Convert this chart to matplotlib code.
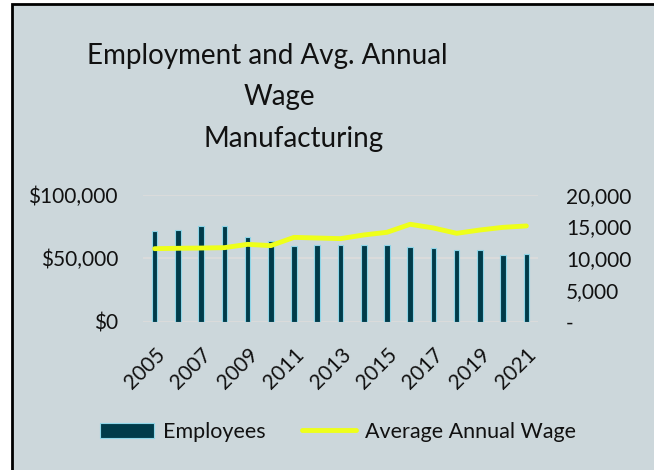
import matplotlib.pyplot as plt
import matplotlib.patches as patches
from matplotlib.lines import Line2D
from matplotlib.ticker import FuncFormatter

plt.rcParams['font.family'] = ['Lato', 'DejaVu Sans']

years = list(range(2005, 2022))
employees = [14300, 14500, 15000, 15000, 13400, 12700, 11900, 12100, 12100,
             12100, 12000, 11800, 11600, 11300, 11300, 10500, 10600]
avg_wage = [57500, 57800, 58000, 58300, 60900, 59900, 66400, 65900, 65400,
            68300, 70400, 76700, 73800, 69600, 72200, 74300, 75400]
wage_ticks = [0, 50000, 100000]
emp_ticks = [0, 5000, 10000, 15000, 20000]

bg = '#CCD7DB'
bar_color = '#003B4A'
bar_edge = '#8FD6E8'
line_color = '#EEFF1A'

fig = plt.figure(figsize=(6.54, 4.70), dpi=100)
fig.patch.set_facecolor('white')
fig.patches.append(patches.Rectangle((12 / 654, -0.02), 1.1, 1 - 4 / 470 + 0.02,
                                     transform=fig.transFigure, facecolor=bg,
                                     edgecolor='black', linewidth=2, zorder=-5))

# bars on right scale (employees), line on left scale (wage)
ax2 = fig.add_axes([143 / 654, 1 - 321.7 / 470, (538 - 143) / 654, (321.7 - 194.7) / 470])
ax = ax2.twinx()
ax2.patch.set_visible(False)
ax.patch.set_visible(False)

x = list(range(len(years)))
for t in wage_ticks:
    ax2.axhline(t * emp_ticks[-1] / wage_ticks[-1], color='#DCDCDC', linewidth=1.3, zorder=0)
ax2.bar(x, employees, width=0.24, color=bar_color, edgecolor=bar_edge, linewidth=0.8, zorder=2)
ax2.set_ylim(0, 20000)
ax2.set_xlim(-0.5, len(years) - 0.5)
ax2.yaxis.tick_right()
ax2.set_yticks(emp_ticks)
ax2.yaxis.set_major_formatter(FuncFormatter(lambda v, p: '-' if v == 0 else f'{int(v):,}'))
ax2.tick_params(axis='y', length=0, pad=20, labelsize=15, colors='#111111')
ax2.set_xticks(x[::2])
ax2.set_xticklabels([str(y) for y in years[::2]], rotation=45, ha='right',
                    va='top', rotation_mode='anchor')
ax2.tick_params(axis='x', length=0, pad=16, labelsize=15, colors='#111111')

ax.plot(x, avg_wage, color=line_color, linewidth=3.5, solid_capstyle='round', zorder=3)
ax.set_ylim(0, 100000)
ax.yaxis.tick_left()
ax.set_yticks(wage_ticks)
ax.yaxis.set_major_formatter(FuncFormatter(lambda v, p: f'${int(v):,}'))
ax.tick_params(axis='y', length=0, pad=18, labelsize=15, colors='#111111')
for a in (ax, ax2):
    for s in a.spines.values():
        s.set_visible(False)

fig.text(267 / 654, 1 - 56 / 470, 'Employment and Avg. Annual', ha='center', va='center', fontsize=20, color='#111111')
fig.text(279 / 654, 1 - 97 / 470, 'Wage', ha='center', va='center', fontsize=20, color='#111111')
fig.text(294 / 654, 1 - 139 / 470, 'Manufacturing', ha='center', va='center', fontsize=20, color='#111111')

handles = [patches.Patch(facecolor=bar_color, edgecolor=bar_edge, linewidth=0.8),
           Line2D([0], [0], color=line_color, linewidth=3.5, solid_capstyle='round')]
fig.legend(handles, ['Employees', 'Average Annual Wage'], loc='center',
           bbox_to_anchor=(338 / 654, 1 - 432 / 470), ncol=2, frameon=False,
           fontsize=15.5, handlelength=2.5, columnspacing=1.7, handletextpad=0.4,
           labelcolor='#111111')

fig.savefig('out.png', dpi=100, facecolor=fig.get_facecolor())
